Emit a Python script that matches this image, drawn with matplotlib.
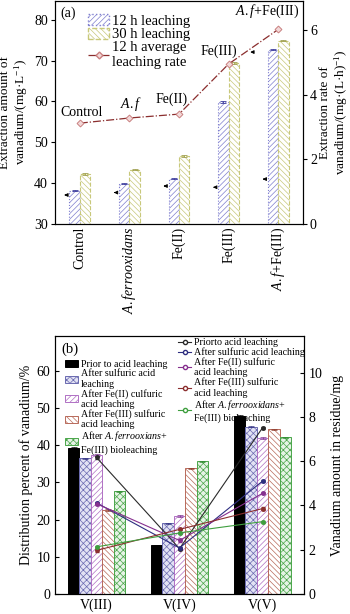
import matplotlib
matplotlib.use("Agg")
import matplotlib.pyplot as plt
import numpy as np
from matplotlib.patches import Patch
from matplotlib.lines import Line2D

plt.rcParams['font.family'] = ['Liberation Serif', 'DejaVu Serif']
plt.rcParams['mathtext.fontset'] = 'custom'
plt.rcParams['mathtext.rm'] = 'Liberation Serif'
plt.rcParams['mathtext.it'] = 'Liberation Serif:italic'
plt.rcParams['hatch.linewidth'] = 0.5

# ---------------- data (a) ----------------
cats_a = ["Control", r"$\it{A.ferrooxidans}$", "Fe(II)", "Fe(III)", r"$\it{A.f}$+Fe(III)"]
point_labels_a = ["Control", r"$\it{A.f}$", "Fe(II)", "Fe(III)", r"$\it{A.f}$+Fe(III)"]
leach_12h = [38.2, 39.9, 41.1, 59.8, 72.7]
leach_30h = [42.3, 43.3, 46.7, 69.4, 74.9]
err_12h = [0.2, 0.2, 0.2, 0.2, 0.2]
err_30h = [0.2, 0.2, 0.2, 0.2, 0.2]
rate_12h = [3.12, 3.28, 3.40, 4.95, 6.02]
arrow_y = [37.1, 37.7, 39.3, 39.0, 41.0]

# ---------------- data (b) ----------------
cats_b = ["V(III)", "V(IV)", "V(V)"]
bar_labels_b = ["Prior to acid leaching", "After sulfuric acid\nleaching",
                "After Fe(II) culfuric\nacid leaching", "After Fe(III) sulfuric\nacid leaching",
                "After $\\it{A.ferrooxians}$+\nFe(III) bioleaching"]
line_labels_b = ["Priorto acid leaching", "After sulfuric acid leaching",
                 "After Fe(II) sulfuric\nacid leaching", "After Fe(III) sulfuric\nacid leaching",
                 "After $\\it{A.ferrooxidans}$+\nFe(III) bioleaching"]
dist_prior = [39.4, 13.1, 47.9]
dist_sulf = [36.5, 19.0, 45.0]
dist_fe2 = [37.4, 21.0, 42.0]
dist_fe3 = [22.6, 33.8, 44.3]
dist_af = [27.6, 35.7, 42.1]
res_prior = [6.17, 2.05, 7.51]
res_sulf = [4.12, 2.08, 5.10]
res_fe2 = [4.08, 2.42, 4.55]
res_fe3 = [1.97, 2.92, 3.86]
res_af = [2.13, 2.76, 3.27]

fig = plt.figure(figsize=(3.5, 6.14), dpi=100)

# ================= panel (a) =================
axa = fig.add_axes([55/350, 1-224/614, 248/350, 223/614])
axa2 = axa.twinx()
x = np.arange(len(cats_a))
w = 0.21
c12 = '#7f7fcf'
c30 = '#c8c87a'
axa.bar(x - w/2, leach_12h, w, bottom=0, facecolor='white', edgecolor=c12,
        hatch='//////', linestyle=':', linewidth=0.8, zorder=2)
axa.bar(x + w/2, leach_30h, w, bottom=0, facecolor='white', edgecolor=c30,
        hatch='\\\\\\\\\\\\', linestyle='--', linewidth=0.8, zorder=2)
axa.errorbar(x - w/2, leach_12h, yerr=err_12h, fmt='none', ecolor='#3c3c9c',
             capsize=2, elinewidth=0.6, capthick=0.6, zorder=3)
axa.errorbar(x + w/2, leach_30h, yerr=err_30h, fmt='none', ecolor='#a0a050',
             capsize=2, elinewidth=0.6, capthick=0.6, zorder=3)
for xi, yi in zip(x, arrow_y):
    axa.annotate('', xy=(xi - 0.37, yi), xytext=(xi - 0.22, yi),
                 arrowprops=dict(arrowstyle='-|>', color='black', lw=0.7,
                                 mutation_scale=5), zorder=4)
axa.set_ylim(30, 84.6)
axa.set_xlim(-0.5, 4.5)
axa.set_yticks([30, 40, 50, 60, 70, 80])
axa.set_xticks(x)
axa.set_xticklabels(cats_a, rotation=90, fontsize=10)
axa.tick_params(axis='both', direction='out', labelsize=10, length=3, width=0.8, pad=2)
axa.tick_params(axis='x', length=0)

lc = '#8b2e2e'
axa2.plot(x, rate_12h, linestyle='-.', color=lc, linewidth=0.9, marker='D',
          markersize=3.5, markerfacecolor='#f2d8d8', markeredgecolor='#c98080',
          markeredgewidth=0.7, zorder=5)
axa2.set_ylim(0, 6.9)
axa2.set_yticks([0, 2, 4, 6])
axa2.tick_params(axis='y', direction='out', labelsize=10, length=3, width=0.8, pad=2)
offs = [(1, 3), (1.5, 3.5), (-5, 6), (-7, 4.5), (-8, 6.5)]
for xi, yi, lab, o in zip(x, rate_12h, point_labels_a, offs):
    axa2.annotate(lab, xy=(xi, yi), xytext=o, textcoords='offset points',
                  fontsize=10, ha='center', va='bottom')
axa2.annotate('', xy=(3.38, 5.32), xytext=(3.56, 5.32),
              arrowprops=dict(arrowstyle='-|>', color='black', lw=0.7, mutation_scale=5))

axa.set_ylabel("Extraction amount of\nvanadium/(mg·L$^{-1}$)", fontsize=9.5, linespacing=1.1)
axa.yaxis.set_label_coords(-0.1, 0.5)
axa2.set_ylabel("Extraction rate of\nvanadium/(mg·(L·h)$^{-1}$)", fontsize=9.5,
                linespacing=1.1, rotation=90)
axa2.yaxis.set_label_coords(1.065, 0.5)
axa.text(0.02, 0.975, "(a)", transform=axa.transAxes, fontsize=10, va='top', ha='left')

ha = [Patch(facecolor='white', edgecolor=c12, hatch='//////', linestyle=':'),
      Patch(facecolor='white', edgecolor=c30, hatch='\\\\\\\\\\\\', linestyle='--'),
      Line2D([], [], linestyle='-.', color=lc, marker='D', markersize=3.5,
             markerfacecolor='#f2d8d8', markeredgecolor='#c98080', linewidth=0.9)]
axa.legend(ha, ["12 h leaching", "30 h leaching", "12 h average\nleaching rate"],
           loc='upper left', bbox_to_anchor=(0.105, 0.975), frameon=False, fontsize=10.5,
           handlelength=1.4, handleheight=0.8, handletextpad=0.2, labelspacing=0.0,
           borderpad=0.0)
for sp in axa.spines.values():
    sp.set_linewidth(0.8)

# ================= panel (b) =================
axb = fig.add_axes([55/350, 1-594/614, 249/350, 258/614])
axb2 = axb.twinx()
xb = np.arange(len(cats_b))
wb = 0.138
bar_series = [dist_prior, dist_sulf, dist_fe2, dist_fe3, dist_af]
bar_styles = [dict(facecolor='black', edgecolor='black', hatch=None),
              dict(facecolor='#e2e2f4', edgecolor='#6a6ab0', hatch='xxxxx'),
              dict(facecolor='white', edgecolor='#b070c4', hatch='//////'),
              dict(facecolor='white', edgecolor='#b86a5a', hatch='\\\\\\\\\\\\'),
              dict(facecolor='#e6f3e6', edgecolor='#4aa64a', hatch='xxxxx')]
err_cols = ['black', '#303080', '#7a2d8a', '#8b3a2a', '#2f8a2f']
handles_b = []
for i, (vals, st) in enumerate(zip(bar_series, bar_styles)):
    pos = xb + (i - 2) * wb
    axb.bar(pos, vals, wb, linewidth=0.7, zorder=2, **st)
    axb.errorbar(pos, vals, yerr=0.2, fmt='none', ecolor=err_cols[i], capsize=2,
                 elinewidth=0.5, capthick=0.5, zorder=3)
    handles_b.append(Patch(linewidth=0.7, **st))
axb.set_xlim(-0.5, 2.5)
axb.set_ylim(0, 69.4)
axb.set_yticks([0, 10, 20, 30, 40, 50, 60])
axb.set_xticks(xb)
axb.set_xticklabels(cats_b, fontsize=10)
axb.tick_params(axis='both', direction='in', labelsize=10, length=3, width=0.8)
axb.tick_params(axis='x', length=0)

line_series = [res_prior, res_sulf, res_fe2, res_fe3, res_af]
line_cols = ['#2a2a2a', '#2e2e80', '#86308f', '#8b2f2f', '#3f9f3f']
lh = []
for vals, c in zip(line_series, line_cols):
    axb2.errorbar(xb, vals, yerr=0.05, color=c, linewidth=0.8, marker='o', markersize=2.5,
                  markerfacecolor=c, markeredgecolor=c, capsize=1.5, elinewidth=0.5, zorder=5)
    lh.append(Line2D([], [], color=c, linewidth=0.8, marker='o', markersize=3,
                     markerfacecolor='white', markeredgecolor=c))
axb2.set_ylim(0, 11.66)
axb2.set_yticks([0, 2, 4, 6, 8, 10])
axb2.tick_params(axis='y', direction='in', labelsize=10, length=3, width=0.8)

axb.set_ylabel("Distribution percent of vanadium/%", fontsize=10)
axb.yaxis.set_label_coords(-0.09, 0.5)
axb2.set_ylabel("Vanadium amount in residue/mg", fontsize=10)
axb2.yaxis.set_label_coords(1.11, 0.5)
axb.text(0.025, 0.975, "(b)", transform=axb.transAxes, fontsize=10.5, va='top', ha='left')

axb.legend(handles_b, bar_labels_b, loc='upper left', bbox_to_anchor=(0.02, 0.925),
           frameon=False, fontsize=7.2, handlelength=1.3, handleheight=0.7,
           handletextpad=0.3, labelspacing=0.0, borderpad=0.0)
axb2.legend(lh, line_labels_b, loc='upper left', bbox_to_anchor=(0.475, 1.01),
            frameon=False, fontsize=7.2, handlelength=1.3, handletextpad=0.3,
            labelspacing=0.0, borderpad=0.0)
for sp in axb.spines.values():
    sp.set_linewidth(0.8)

fig.savefig("out.png", dpi=100)
